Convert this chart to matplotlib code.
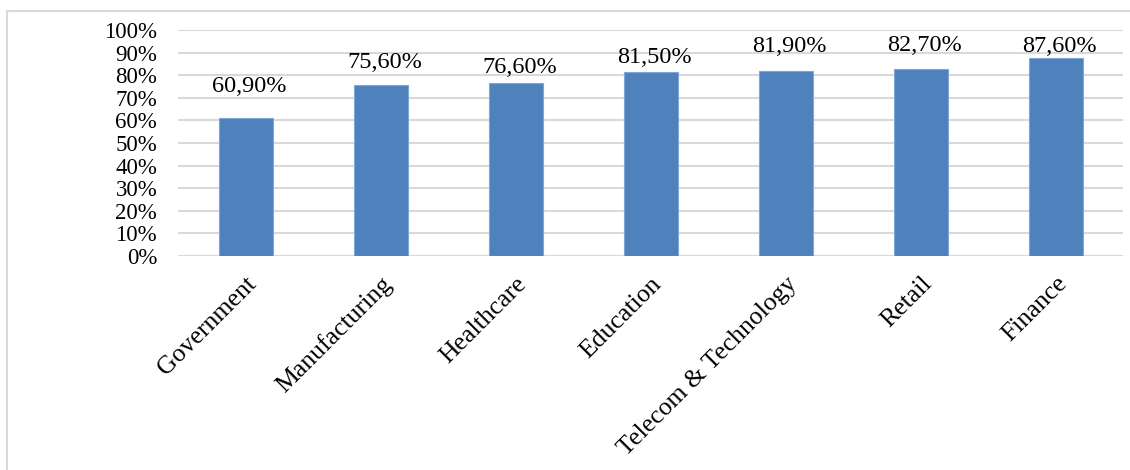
import matplotlib.pyplot as plt
from matplotlib.patches import Rectangle
from matplotlib.ticker import PercentFormatter

# data
sectors = ["Government", "Manufacturing", "Healthcare", "Education",
           "Telecom & Technology", "Retail", "Finance"]
rates = [60.9, 75.6, 76.6, 81.5, 81.9, 82.7, 87.6]
# baseline of each value label, in axis units (labels are not all at the same gap)
label_y = [72.6, 83.2, 81.0, 85.4, 90.3, 90.7, 90.3]

plt.rcParams["font.family"] = ["Liberation Serif", "DejaVu Serif"]

fig = plt.figure(figsize=(11.3, 4.7), dpi=100)
ax = fig.add_axes([178 / 1130, 1 - 256 / 470, (1123 - 178) / 1130, (256 - 30) / 470])

x = range(len(sectors))
ax.bar(x, rates, width=0.4, color="#4F81BD", edgecolor="#7EA6D6",
       linewidth=0.8, zorder=3)

for i, (v, ly) in enumerate(zip(rates, label_y)):
    ax.annotate(f"{v:.2f}%".replace(".", ","), (i, ly), xytext=(3, 0),
                textcoords="offset points", ha="center", va="baseline",
                fontsize=17.5, color="black")

ax.set_xlim(-0.5, len(sectors) - 0.5)
ax.set_ylim(0, 100)
ax.set_yticks(range(0, 101, 10))
ax.yaxis.set_major_formatter(PercentFormatter(decimals=0))
ax.grid(axis="y", color="#D9D9D9", linewidth=1.5, zorder=0)
for s in ax.spines.values():
    s.set_visible(False)
ax.tick_params(axis="y", length=0, pad=15, labelsize=16.5)
ax.tick_params(axis="x", length=0, pad=12)
ax.set_xticks(list(x))
ax.set_xticklabels(sectors, rotation=45, ha="right", rotation_mode="anchor",
                   fontsize=18.5)

# outer chart frame
fig.patches.append(Rectangle((7 / 1130, -0.05), 1.2, 1 - 11 / 470 + 0.05,
                             transform=fig.transFigure, fill=False,
                             edgecolor="#D9D9D9", linewidth=1.5))

fig.savefig("out.png", dpi=100)
